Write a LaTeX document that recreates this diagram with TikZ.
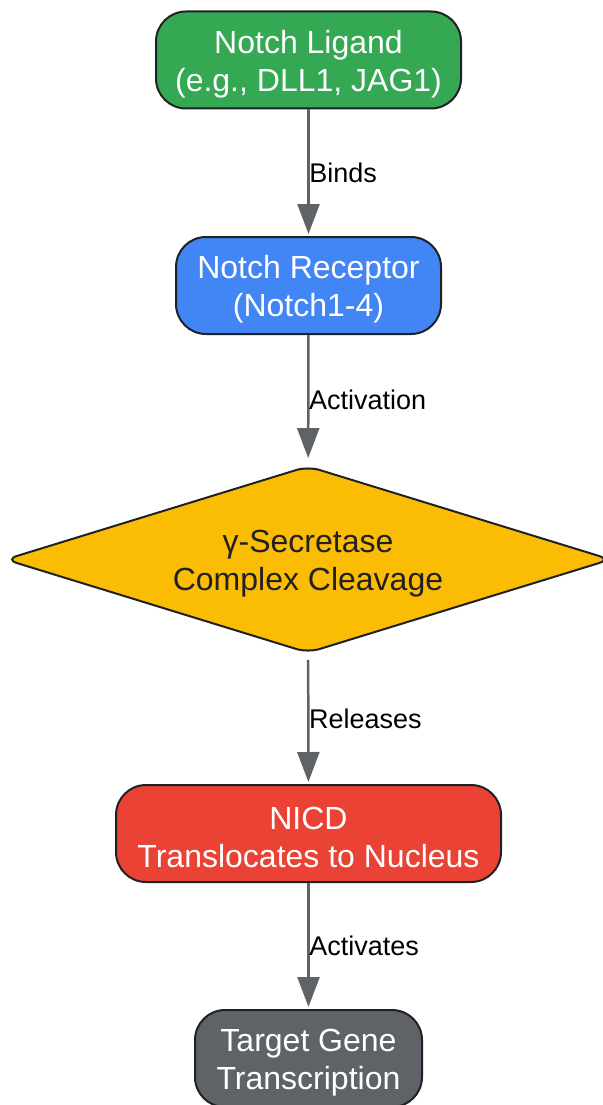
\documentclass[tikz,border=0pt]{standalone}
\usepackage{fontspec}
\setmainfont{Liberation Sans}
\usetikzlibrary{shapes.geometric,arrows.meta}
\definecolor{cgreen}{HTML}{34A853}
\definecolor{cblue}{HTML}{4285F4}
\definecolor{cyellow}{HTML}{FBBC04}
\definecolor{cred}{HTML}{EA4335}
\definecolor{cgray}{HTML}{5F6368}
\definecolor{cborder}{HTML}{202124}
\definecolor{cline}{HTML}{5F6368}
\tikzset{
  x=1pt, y=-1pt,
  txt/.style={align=center, inner sep=0pt, yshift=-4pt, font=\fontsize{32}{38}\selectfont},
  box/.style={draw=cborder, line width=2pt, rounded corners=30pt, inner sep=0pt,
    minimum height=97pt},
  decision/.style={diamond, aspect=3.22, draw=cborder, line width=2pt, rounded corners=12pt,
    inner sep=0pt, minimum width=606pt, minimum height=187pt, fill=cyellow},
  conn/.style={draw=cline, line width=2.5pt, -{Triangle[length=30pt,width=22pt]}},
  elabel/.style={anchor=west, inner sep=0pt, xshift=-0.5pt, text=black,
    font=\fontsize{27}{32}\selectfont},
}
\begin{document}
\begin{tikzpicture}
\useasboundingbox (0,0) rectangle (602,1105);
\node[box, fill=cgreen, minimum width=305pt, label={[txt, text=white]center:Notch Ligand\\(e.g., DLL1, JAG1)}] (lig) at (308.5,60) {};
\node[box, fill=cblue, minimum width=265pt, label={[txt, text=white]center:Notch Receptor\\(Notch1-4)}] (rec) at (308.5,285.5) {};
\node[decision, label={[txt, text=cborder]center:γ-Secretase\\Complex Cleavage}] (gam) at (308,559.5) {};
\node[box, fill=cred, minimum width=385pt, label={[txt, text=white]center:NICD\\Translocates to Nucleus}] (nicd) at (308.5,833.5) {};
\node[box, fill=cgray, minimum width=227pt, label={[txt, text=white]center:Target Gene\\Transcription}] (tgt) at (308.5,1058.5) {};
\draw[conn, shorten >=2pt] (lig) -- node[elabel, midway] {Binds} (rec);
\draw[conn, shorten >=7pt] (rec) -- node[elabel, midway] {Activation} (gam);
\draw[conn, shorten <=6pt, shorten >=2pt] (gam) -- node[elabel, midway] {Releases} (nicd);
\draw[conn, shorten >=2pt] (nicd) -- node[elabel, midway] {Activates} (tgt);
\end{tikzpicture}
\end{document}
